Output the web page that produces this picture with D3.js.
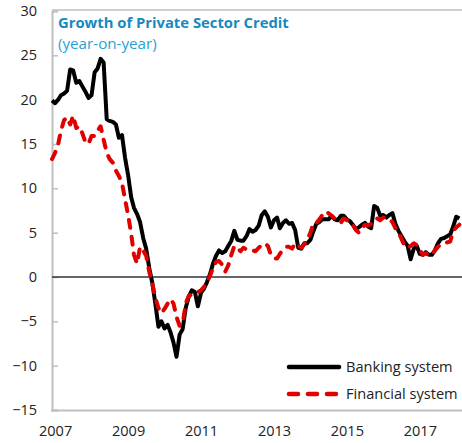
<!DOCTYPE html>
<html>
<head>
<meta charset="utf-8">
<script src="https://cdn.jsdelivr.net/npm/d3@7"></script>
<style>
  html, body { margin: 0; padding: 0; background: #fff; }
  svg { display: block; }
  text { font-family: "Open Sans", "Noto Sans", sans-serif; }
</style>
</head>
<body>
<svg id="chart" width="462" height="443"></svg>
<script>
// Monthly data, Dec 2006 .. Feb 2018 (percent, year-on-year)
const startMonth = "2006-12";
const banking = [
  19.9, 19.6, 20.0, 20.5, 20.7, 21.0, 23.4, 23.3, 21.9, 22.1,
  21.5, 20.9, 20.2, 20.5, 23.1, 23.5, 24.6, 24.2, 17.8, 17.6,
  17.5, 17.2, 15.7, 16.0, 13.5, 11.5, 9.0, 7.8, 7.1, 6.2,
  4.4, 3.2, 1.0, -0.7, -3.0, -5.6, -5.0, -5.8, -5.4, -6.2,
  -7.4, -9.0, -6.5, -5.9, -3.5, -2.2, -1.5, -1.7, -3.3, -1.8,
  -1.3, -0.6, 0.3, 1.5, 2.4, 3.0, 2.7, 2.9, 3.5, 4.1,
  5.2, 4.2, 4.1, 4.1, 4.6, 5.4, 5.1, 5.3, 5.8, 7.0,
  7.4, 6.8, 5.6, 6.4, 6.7, 5.5, 6.1, 6.4, 6.0, 6.1,
  5.3, 3.3, 3.2, 3.8, 3.8, 4.2, 5.2, 6.0, 6.2, 6.5,
  6.5, 6.5, 6.9, 6.5, 6.4, 6.9, 6.9, 6.5, 6.3, 5.9,
  5.4, 5.6, 5.9, 6.1, 5.7, 5.5, 8.0, 7.8, 6.9, 7.0,
  6.7, 7.0, 7.2, 6.0, 5.2, 4.6, 4.0, 3.5, 2.0, 3.2,
  3.5, 2.6, 2.5, 2.8, 2.5, 2.5, 3.0, 3.8, 4.3, 4.4,
  4.6, 4.8, 5.7, 6.8, 6.6
];
const financial = [
  13.3, 14.0, 15.0, 16.5, 17.7, 18.0, 17.2, 18.2, 16.8, 17.0,
  16.2, 15.2, 15.0, 15.9, 15.9, 16.5, 17.0, 15.5, 14.0, 13.3,
  12.9, 12.0, 11.4, 10.6, 8.8, 7.0, 4.9, 2.5, 1.5, 3.4,
  3.0, 2.4, 0.6, -0.8, -2.3, -3.5, -4.1, -3.6, -3.0, -2.5,
  -3.0, -4.5, -5.5, -5.3, -3.0, -2.1, -2.0, -1.9, -1.7, -1.5,
  -1.1, -0.6, 0.1, 1.0, 1.7, 1.8, 1.4, 0.6, 1.3, 2.5,
  3.5, 3.3, 2.9, 3.3, 3.1, 3.1, 3.0, 2.9, 3.3, 3.6,
  3.8, 3.5, 2.5, 2.1, 2.1, 2.6, 3.1, 3.4, 3.4, 3.2,
  3.8, 3.5, 3.3, 3.7, 4.2, 5.0, 6.1, 6.1, 6.5, 7.0,
  7.4, 7.2, 6.9, 6.6, 6.3, 6.1, 6.6, 6.4, 6.2, 5.9,
  5.3, 5.0, 5.5, 5.9, 5.8, 6.0, 6.5, 6.6, 6.4, 6.7,
  6.7, 6.5, 6.2, 5.5, 5.0, 4.3, 3.5, 3.3, 3.5, 3.8,
  3.6, 3.0, 2.5, 2.7, 2.4, 2.5, 3.0, 3.4, 3.7, 3.8,
  3.9, 4.0, 5.2, 5.6, 5.9
];
const yTicks = [30, 25, 20, 15, 10, 5, 0, -5, -10, -15];
const xTickYears = [2007, 2009, 2011, 2013, 2015, 2017];
const seriesNames = ["Banking system", "Financial system"];
const titleText = "Growth of Private Sector Credit";
const subtitleText = "(year-on-year)";

const parseMonth = d3.timeParse("%Y-%m");
const t0 = parseMonth(startMonth);
const dates = banking.map((_, i) => d3.timeMonth.offset(t0, i));

const svg = d3.select("#chart");
const mLeft = 52, mRight = 462, mTop = 10, mBottom = 410;

const x = d3.scaleTime()
  .domain([t0, dates[dates.length - 1]])
  .range([mLeft, 459.4]);
const y = d3.scaleLinear().domain([-15, 30]).range([mBottom, 11]);

const grey = "#bfbfbf";

// top border
svg.append("line").attr("x1", mLeft).attr("x2", mRight).attr("y1", mTop).attr("y2", mTop)
  .attr("stroke", grey).attr("stroke-width", 1.5);

// y axis
const yAxis = d3.axisLeft(y).tickValues(yTicks).tickSize(-6).tickPadding(15).tickFormat(d3.format("d"));
const gy = svg.append("g").attr("transform", `translate(${mLeft},0)`).call(yAxis);
gy.select(".domain").attr("stroke", grey).attr("stroke-width", 2);
gy.selectAll(".tick line").attr("stroke", grey).attr("stroke-width", 1.5);
gy.selectAll(".tick text").attr("fill", "#222").style("font-size", "14.5px")
  .style("font-family", '"Open Sans", sans-serif');

// x axis
const xAxis = d3.axisBottom(x)
  .tickValues(xTickYears.map(yr => new Date(yr, 0, 1)))
  .tickSize(0).tickPadding(16).tickFormat(d3.timeFormat("%Y"));
const gx = svg.append("g").attr("transform", `translate(0,${mBottom})`).call(xAxis);
gx.select(".domain").remove();
gx.selectAll(".tick text").attr("fill", "#222").style("font-size", "14.5px")
  .style("font-family", '"Open Sans", sans-serif');
svg.append("line").attr("x1", mLeft - 1).attr("x2", mRight).attr("y1", mBottom + 0.5).attr("y2", mBottom + 0.5)
  .attr("stroke", grey).attr("stroke-width", 2);

// zero line
svg.append("line").attr("x1", mLeft).attr("x2", mRight).attr("y1", y(0)).attr("y2", y(0))
  .attr("stroke", "#333").attr("stroke-width", 1.3);

const line = d3.line().x((d, i) => x(dates[i])).y(d => y(d));

svg.append("path").datum(banking).attr("d", line)
  .attr("fill", "none").attr("stroke", "#000").attr("stroke-width", 4)
  .attr("stroke-linejoin", "round");
svg.append("path").datum(financial).attr("d", line)
  .attr("fill", "none").attr("stroke", "#e00000").attr("stroke-width", 4)
  .attr("stroke-linejoin", "round").attr("stroke-linecap", "round")
  .attr("stroke-dasharray", "8,9");

// title
svg.append("text").attr("x", 58).attr("y", 28).text(titleText)
  .attr("fill", "#1789bf").style("font-weight", "bold").style("font-size", "14.8px");
svg.append("text").attr("x", 58).attr("y", 49).text(subtitleText)
  .attr("fill", "#2a9fd6").style("font-size", "15.2px");

// legend
const legend = svg.append("g");
const legY = [367, 394];
legend.append("line").attr("x1", 289).attr("x2", 339).attr("y1", legY[0]).attr("y2", legY[0])
  .attr("stroke", "#000").attr("stroke-width", 4.5).attr("stroke-linecap", "round");
legend.append("line").attr("x1", 289).attr("x2", 341).attr("y1", legY[1]).attr("y2", legY[1])
  .attr("stroke", "#e00000").attr("stroke-width", 4.5).attr("stroke-linecap", "round")
  .attr("stroke-dasharray", "9,10");
seriesNames.forEach((n, i) => {
  legend.append("text").attr("x", 346).attr("y", legY[i] + 5).text(n)
    .attr("fill", "#222").style("font-size", "14.6px");
});
</script>
</body>
</html>
